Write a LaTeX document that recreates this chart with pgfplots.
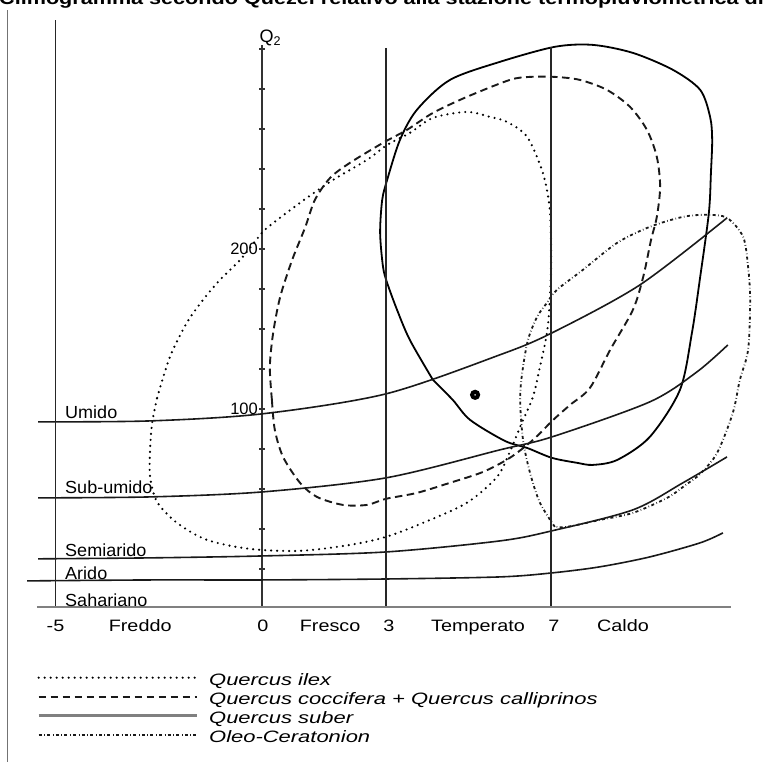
\documentclass[border=0pt]{standalone}
\usepackage{fontspec}
\setmainfont{Liberation Sans}
\usepackage{graphicx}
\usepackage{pgfplots}
\pgfplotsset{compat=1.18}
\newcommand{\sx}[2]{\scalebox{#1}[1]{#2}}

\begin{document}
\begin{tikzpicture}[x=1pt,y=1pt,
  lab/.style={font=\fontsize{17.5}{19}\selectfont, anchor=base west, inner sep=0pt},
  blab/.style={font=\fontsize{16.5}{19}\selectfont, anchor=base, inner sep=0pt}]
\useasboundingbox (0,0) rectangle (769,762);
% title, cut by the page edge as in the scan
\node[anchor=base west, inner sep=0pt, font=\fontsize{18}{20}\selectfont\bfseries]
  at (-1,757) {\sx{1.2}{Climogramma secondo Quezel relativo alla stazione termopluviometrica di}};
\draw[black!55, line width=0.8pt] (7.5,0) -- (7.5,752);

\begin{axis}[
  at={(26.6pt,155pt)}, anchor=south west,
  scale only axis, width=724.8pt, height=562.1pt,
  xmin=-5.7, xmax=11.85, ymin=-23.8, ymax=327.5,
  axis x line=none, axis y line=center,
  y axis line style={-, line width=1.4pt, black!80},
  ytick={0,25,...,325},
  yticklabels={,,,,100,,,,200,,,,,},
  major tick length=6pt, tick align=center,
  ytick style={line width=1.4pt, black!80},
  yticklabel style={font=\fontsize{16.5}{18}\selectfont, inner sep=1pt},
  clip=false,
  legend style={at={(axis description cs:0.01435,-0.1174)}, anchor=north west,
    draw=none, fill=none, inner sep=0pt, row sep=0pt,
    nodes={inner sep=0pt, text height=12pt, text depth=7pt,
      font=\fontsize{16.5}{19}\selectfont\itshape},
    /tikz/every odd column/.append style={column sep=11pt}},
  legend cell align=left,
  legend image code/.code={\draw[#1] (0pt,5pt) -- (158pt,5pt);},
  bnd/.style={black!90, line width=1.6pt, smooth, forget plot},
  vl/.style={black!85, line width=1.4pt, forget plot},
]

% Quercus ilex
\addplot[black, line width=2.4pt, dash pattern=on 0pt off 6pt, line cap=round, smooth]
  coordinates {(-2.54,106.9) (-2.23,132.5) (-1.82,153.8) (-1.43,168.1) (-1.02,180.6)
  (-0.53,193.1) (-0.10,206.9) (0.12,213.1) (0.92,228.8) (1.72,243.1) (2.54,255.6)
  (3.03,265) (3.58,272.5) (4.14,281.9) (4.96,285.6) (5.52,282.5) (5.93,279.4)
  (6.42,270) (6.80,247.5) (6.97,224.4) (7.00,193.1) (6.97,168.1) (6.90,147.5)
  (6.73,126.3) (6.56,107.5) (6.27,90) (6.00,73.1) (5.69,57.5) (4.96,41.3)
  (3.90,28.8) (3,20) (2.13,15) (0.92,11.3) (-0.29,12.5) (-1.33,18.1) (-2.06,28.8)
  (-2.54,41.9) (-2.71,57.5) (-2.71,74.4) (-2.66,91.3) (-2.54,106.9)};
\addlegendentry{\sx{1.33}{Quercus ilex}}

% Quercus coccifera + Quercus calliprinos
\addplot[black!90, line width=1.9pt, dash pattern=on 7.5pt off 4.5pt, smooth]
  coordinates {(0.24,105.6) (0.19,126.3) (0.27,147.5) (0.44,170) (0.73,193.1)
  (1.04,213.1) (1.28,230.6) (1.65,244.4) (2.13,253.8) (2.93,266.3) (3.51,274.4)
  (4.14,285) (4.96,295) (6.00,305.6) (6.49,307.5) (7.09,307.5) (7.70,305.6)
  (8.35,299.4) (8.91,288.8) (9.32,274.4) (9.56,257.5) (9.64,238.8) (9.56,220)
  (9.42,205.6) (9.23,182.5) (8.98,161.9) (8.43,136.9) (7.94,113.1) (7.46,102.5)
  (7.05,93.1) (6.56,80.6) (6.00,69.4) (5.35,60.6) (4.55,53.8) (3.75,47.5)
  (3.00,43.8) (2.54,40) (1.96,40) (1.33,45) (0.92,53.8) (0.51,70) (0.31,86.9)
  (0.24,105.6)};
\addlegendentry{\sx{1.33}{Quercus coccifera + Quercus calliprinos}}

% Quercus suber
\addplot[black, line width=1.8pt, smooth,
  legend image code/.code={\draw[black!50, line width=3pt] (0pt,5pt) -- (158pt,5pt);}]
  coordinates {(4.14,118.1) (3.58,143.1) (3.27,161.9) (3.03,178.8) (2.93,188.8)
  (2.86,210) (2.91,230.6) (3.03,243.1) (3.34,268.1) (3.75,286.9) (4.55,305.6)
  (5.76,316.9) (7.09,326.3) (8.01,327.5) (8.98,322.5) (9.95,311.9) (10.61,299.4)
  (10.85,282.5) (10.90,268.1) (10.87,247.5) (10.82,222.5) (10.61,182.5)
  (10.41,147.5) (10.12,111.9) (9.39,82.5) (8.60,68.1) (8.01,65) (7.63,66.3)
  (7.02,69.4) (6.42,75.6) (5.88,80) (5.04,93.1) (4.62,105.6) (4.14,118.1)};
\addlegendentry{\sx{1.33}{Quercus suber}}

% Oleo-Ceratonion
\addplot[black!90, line width=1.8pt, dash pattern=on 3pt off 2.5pt on 0.6pt off 2.5pt, smooth]
  coordinates {(7.09,26.3) (6.73,41.3) (6.49,60) (6.32,80.6) (6.25,105.6)
  (6.30,122.5) (6.44,143.1) (6.66,157.5) (6.90,166.3) (7.14,174.4) (7.77,186.9)
  (8.60,203.8) (9.39,213.8) (10.19,220) (10.77,221.3) (11.26,219.4) (11.65,207.5)
  (11.77,188.8) (11.82,168.1) (11.77,136.9) (11.57,118.1) (11.40,97.5)
  (11.02,72.5) (10.61,59.4) (10.29,53.1) (9.81,44.4) (8.98,35) (8.18,30.6)
  (7.39,26.3) (7.09,26.3)};
\addlegendentry{\sx{1.33}{Oleo-Ceratonion}}

% bioclimatic boundaries
\addplot[bnd] coordinates {(-5.42,91.9) (-2.71,92.5) (0,96.9) (3,109.4) (5.76,133.8)
  (7.02,147.5) (9.15,177.5) (11.26,219.4)};
\addplot[bnd] coordinates {(-5.42,44.4) (-2.71,45) (0,48.1) (3,56.9) (5.76,74.4)
  (7.02,82.5) (9.39,104.4) (10.53,123.1) (11.28,140)};
\addplot[bnd] coordinates {(-5.42,6.3) (-2.71,6.9) (0,8.1) (3,10.6) (5.76,17.5)
  (7.02,23.8) (8.98,36.9) (10.19,53.8) (11.26,70)};
\addplot[bnd] coordinates {(-5.69,-7.5) (-2.71,-6.9) (0,-6.9) (3,-6.3) (5.76,-5)
  (7.02,-2.5) (8.18,1.3) (9.39,7.5) (10.61,16.3) (11.16,22.5)};

% thermal limits and base line
\addplot[vl] coordinates {(-5,343) (-5,-23.8)};
\addplot[vl] coordinates {(3,325.6) (3,-23.8)};
\addplot[vl] coordinates {(7,326.3) (7,-23.8)};
\addplot[black!50, line width=2.8pt, forget plot] coordinates {(-5.45,-23.8) (11.36,-23.8)};

% station
\addplot[only marks, mark=*, mark size=3pt,
  mark options={fill=white, draw=black, line width=4pt}, forget plot]
  coordinates {(5.16,108.8)};

\node[font=\fontsize{18}{20}\selectfont] at (axis cs:0.2,332) {Q\textsubscript{2}};

\node[lab] at (axis cs:-4.77,94.1) {\sx{1.03}{Umido}};
\node[lab] at (axis cs:-4.77,46.9) {\sx{1.03}{Sub-umido}};
\node[lab] at (axis cs:-4.77,7.8) {\sx{1.03}{Semiarido}};
\node[lab] at (axis cs:-4.77,-6.6) {\sx{1.03}{Arido}};
\node[lab] at (axis cs:-4.77,-23.2) {\sx{1.03}{Sahariano}};

\node[blab] at (axis cs:-5.0,-39.4) {\sx{1.2}{-5}};
\node[blab] at (axis cs:-2.95,-39.4) {\sx{1.2}{Freddo}};
\node[blab] at (axis cs:0.02,-39.4) {\sx{1.2}{0}};
\node[blab] at (axis cs:1.65,-39.4) {\sx{1.2}{Fresco}};
\node[blab] at (axis cs:3.07,-39.4) {\sx{1.2}{3}};
\node[blab] at (axis cs:5.23,-39.4) {\sx{1.2}{Temperato}};
\node[blab] at (axis cs:7.07,-39.4) {\sx{1.2}{7}};
\node[blab] at (axis cs:8.74,-39.4) {\sx{1.2}{Caldo}};
\end{axis}
\end{tikzpicture}
\end{document}
